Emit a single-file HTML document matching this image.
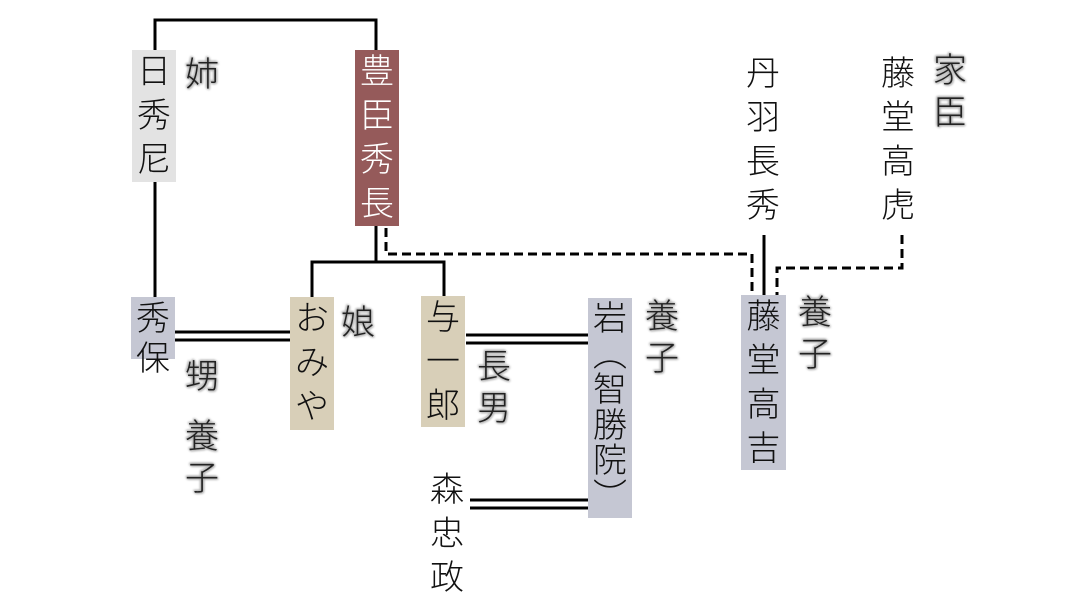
<!DOCTYPE html>
<html><head><meta charset="utf-8"><style>
body{margin:0;width:1080px;height:605px;background:#fff;position:relative;overflow:hidden;font-family:"Liberation Sans","Noto Sans CJK JP",sans-serif;}
.b{position:absolute;font-size:34px;line-height:44px;text-align:center;color:#111;font-weight:300;white-space:nowrap;}
.l{position:absolute;font-size:34px;line-height:42px;width:44px;text-align:center;color:#222;font-weight:300;white-space:nowrap;text-shadow:0 0 2px #aaa,0 0 3px #bbb,1px 1px 2px #aaa,-1px -1px 2px #aaa;}
svg{position:absolute;left:0;top:0}
</style></head><body>
<svg width="1080" height="605">
<g stroke="#000" stroke-width="3" fill="none">
<polyline points="155,50 155,20 376,20 376,50"/>
<line x1="155" y1="182" x2="155" y2="297"/>
<line x1="376" y1="226" x2="376" y2="262"/>
<polyline points="312,297 312,262 444,262 444,296"/>
<line x1="764" y1="235" x2="764" y2="295"/>
<line x1="175" y1="332" x2="290" y2="332"/><line x1="175" y1="340" x2="290" y2="340"/>
<line x1="466" y1="335" x2="588" y2="335"/><line x1="466" y1="343" x2="588" y2="343"/>
<line x1="470" y1="500" x2="588" y2="500"/><line x1="470" y1="508" x2="588" y2="508"/>
</g>
<g stroke="#000" stroke-width="3" fill="none" stroke-dasharray="9,5">
<polyline points="386,228 386,254 752,254 752,295"/>
<polyline points="902,235 902,268 777,268 777,295"/>
</g>
</svg>
<div class="b" style="left:132px;top:50px;width:44px;height:132px;background:#e3e3e3">日<br>秀<br>尼</div>
<div class="b" style="left:355px;top:50px;width:44px;height:176px;background:#955a5a;color:#fff">豊<br>臣<br>秀<br>長</div>
<div class="b" style="left:131px;top:297px;width:44px;height:60px;background:#c5c7d3;line-height:40px;padding-top:2px">秀<br>保</div>
<div class="b" style="left:290px;top:297px;width:44px;height:133px;background:#d8cfb8">お<br>み<br>や</div>
<div class="b" style="left:421px;top:296px;width:44px;height:131px;background:#d8cfb8">与<br>一<br>郎</div>
<div class="b" style="left:588px;top:298px;width:44px;height:220px;background:#c5c7d3;line-height:35.5px;padding-top:4px;box-sizing:border-box">岩<br>︵<br>智<br>勝<br>院<br>︶</div>
<div class="b" style="left:741px;top:295px;width:45px;height:175px;background:#c5c7d3">藤<br>堂<br>高<br>吉</div>
<div class="b" style="left:425px;top:468px;width:44px;height:132px">森<br>忠<br>政</div>
<div class="b" style="left:741px;top:52px;width:44px;height:176px">丹<br>羽<br>長<br>秀</div>
<div class="b" style="left:876px;top:52px;width:44px;height:176px">藤<br>堂<br>高<br>虎</div>
<div class="l" style="left:180px;top:54px">姉</div>
<div class="l" style="left:180px;top:356px">甥</div>
<div class="l" style="left:180px;top:416px">養<br>子</div>
<div class="l" style="left:336px;top:302px">娘</div>
<div class="l" style="left:472px;top:346px">長<br>男</div>
<div class="l" style="left:640px;top:296px">養<br>子</div>
<div class="l" style="left:793px;top:292px">養<br>子</div>
<div class="l" style="left:928px;top:50px">家<br>臣</div>
</body></html>
